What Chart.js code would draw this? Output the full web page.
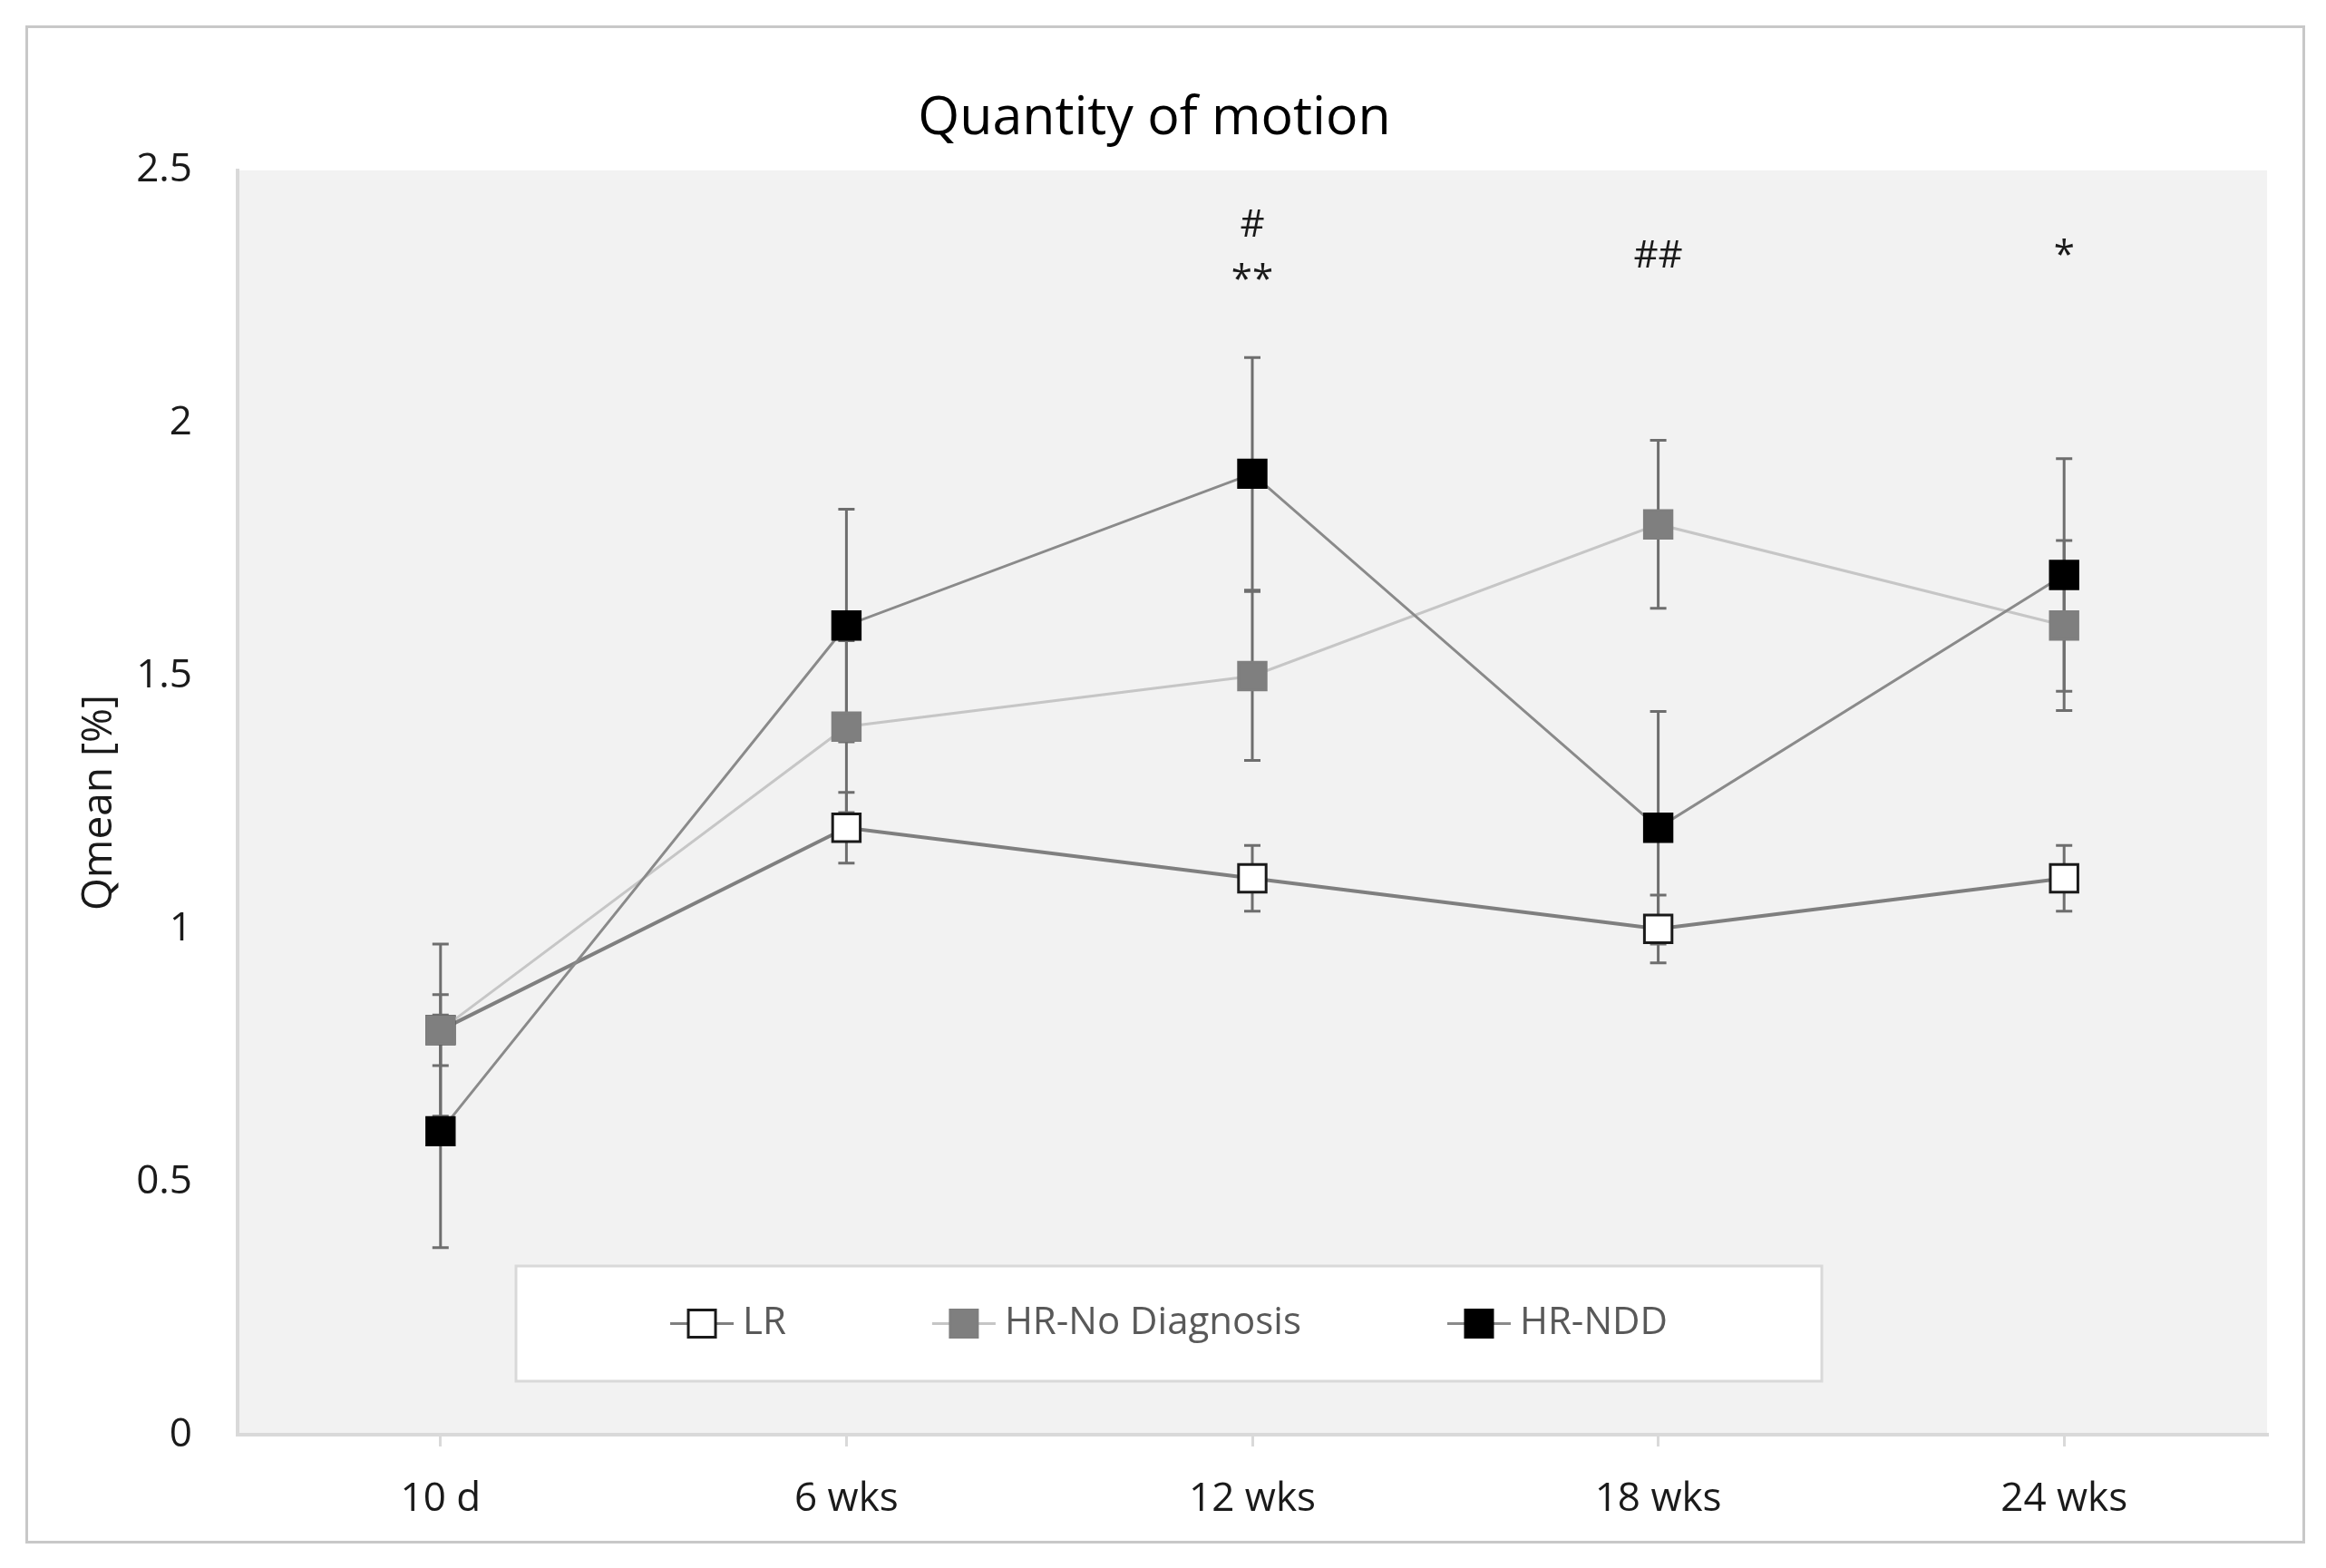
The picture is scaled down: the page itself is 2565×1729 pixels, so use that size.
<!DOCTYPE html>
<html>
<head>
<meta charset="utf-8">
<title>Quantity of motion</title>
<script src="https://cdn.jsdelivr.net/npm/chart.js@4.4.1/dist/chart.umd.min.js"></script>
<style>
  html, body { margin: 0; padding: 0; background: #fff; }
  canvas { display: block; }
</style>
</head>
<body>
<canvas id="chart" width="2565" height="1729"></canvas>
<script>
const categories = ['10 d', '6 wks', '12 wks', '18 wks', '24 wks'];

const lrMean = [0.8, 1.2, 1.1, 1.0, 1.1];
const lrErr = [0.07, 0.07, 0.065, 0.067, 0.065];
const noDiagMean = [0.8, 1.4, 1.5, 1.8, 1.6];
const noDiagErr = [0.17, 0.17, 0.167, 0.166, 0.168];
const nddMean = [0.6, 1.6, 1.9, 1.2, 1.7];
const nddErr = [0.23, 0.23, 0.23, 0.23, 0.23];

// significance marks above the points
const sigText = ['#', '**', '##', '*'];
const sigCategory = ['12 wks', '12 wks', '18 wks', '24 wks'];
const sigLevel = [2.39, 2.28, 2.33, 2.33];

const FONT = '"Open Sans", "Noto Sans", sans-serif';

// white page, outer frame and grey plot area
const frame = {
    id: 'frame',
    beforeDraw(chart) {
        const { ctx, chartArea: a } = chart;
        ctx.save();
        ctx.fillStyle = '#ffffff';
        ctx.fillRect(0, 0, chart.width, chart.height);
        ctx.strokeStyle = '#c8c8c8';
        ctx.lineWidth = 3;
        ctx.strokeRect(29.5, 29.5, 2511, 1671);
        ctx.fillStyle = '#f2f2f2';
        ctx.fillRect(a.left, a.top, a.width, a.height);
        ctx.restore();
    }
};

const errorBars = {
    id: 'errorBars',
    beforeDatasetsDraw(chart) {
        const { ctx, scales: { x, y } } = chart;
        ctx.save();
        ctx.strokeStyle = '#6e6e6e';
        ctx.lineWidth = 3;
        chart.data.datasets.forEach(ds => {
            ds.data.forEach((v, j) => {
                const px = x.getPixelForValue(j);
                const top = y.getPixelForValue(v + ds.errors[j]);
                const bot = y.getPixelForValue(v - ds.errors[j]);
                ctx.beginPath();
                ctx.moveTo(px, top); ctx.lineTo(px, bot);
                ctx.moveTo(px - 9, top); ctx.lineTo(px + 9, top);
                ctx.moveTo(px - 9, bot); ctx.lineTo(px + 9, bot);
                ctx.stroke();
            });
        });
        ctx.restore();
    }
};

const sigMarks = {
    id: 'sigMarks',
    afterDatasetsDraw(chart) {
        const { ctx, scales: { x, y } } = chart;
        ctx.save();
        ctx.fillStyle = '#1a1a1a';
        ctx.font = `42px ${FONT}`;
        ctx.textAlign = 'center';
        ctx.textBaseline = 'middle';
        sigText.forEach((t, i) => {
            ctx.fillText(t, x.getPixelForValue(categories.indexOf(sigCategory[i])), y.getPixelForValue(sigLevel[i]));
        });
        ctx.restore();
    }
};

// Excel-style legend box sitting inside the plot area
const boxLegend = {
    id: 'boxLegend',
    afterDraw(chart) {
        const ctx = chart.ctx;
        const box = { left: 569, top: 1396, width: 1440, height: 127 };
        ctx.save();
        ctx.fillStyle = '#ffffff';
        ctx.fillRect(box.left, box.top, box.width, box.height);
        ctx.strokeStyle = '#d9d9d9';
        ctx.lineWidth = 3;
        ctx.strokeRect(box.left, box.top, box.width, box.height);

        ctx.font = `42px ${FONT}`;
        const lineLen = 70, gap = 10, spacing = 161, s = 30;
        const items = chart.data.datasets.map(ds => ({ ds, w: ctx.measureText(ds.label).width }));
        const total = items.reduce((sum, it) => sum + lineLen + gap + it.w, 0) + spacing * (items.length - 1);
        let x = box.left + (box.width - total) / 2;
        const cy = box.top + box.height / 2;
        items.forEach(({ ds, w }) => {
            ctx.strokeStyle = ds.borderColor;
            ctx.lineWidth = 3;
            ctx.beginPath();
            ctx.moveTo(x, cy); ctx.lineTo(x + lineLen, cy);
            ctx.stroke();
            const mx = x + lineLen / 2;
            ctx.fillStyle = ds.pointBackgroundColor;
            ctx.fillRect(mx - s / 2, cy - s / 2, s, s);
            ctx.strokeStyle = ds.pointBorderColor;
            ctx.strokeRect(mx - s / 2, cy - s / 2, s, s);
            ctx.fillStyle = '#595959';
            ctx.textAlign = 'left';
            ctx.textBaseline = 'middle';
            ctx.fillText(ds.label, x + lineLen + gap, cy);
            x += lineLen + gap + w + spacing;
        });
        ctx.restore();
    }
};

function draw() {
    const ctx = document.getElementById('chart').getContext('2d');
    new Chart(ctx, {
        type: 'line',
        data: {
            labels: categories,
            datasets: [
                {
                    label: 'LR',
                    data: lrMean,
                    errors: lrErr,
                    order: 2,
                    borderColor: '#7f7f7f',
                    borderWidth: 4,
                    pointStyle: 'rect',
                    pointRadius: 21.5,
                    pointBorderWidth: 3,
                    pointBackgroundColor: '#ffffff',
                    pointBorderColor: '#1a1a1a'
                },
                {
                    label: 'HR-No Diagnosis',
                    data: noDiagMean,
                    errors: noDiagErr,
                    order: 1,
                    borderColor: '#c6c6c6',
                    borderWidth: 3,
                    pointStyle: 'rect',
                    pointRadius: 21.5,
                    pointBorderWidth: 3,
                    pointBackgroundColor: '#7f7f7f',
                    pointBorderColor: '#7f7f7f'
                },
                {
                    label: 'HR-NDD',
                    data: nddMean,
                    errors: nddErr,
                    order: 0,
                    borderColor: '#8a8a8a',
                    borderWidth: 3,
                    pointStyle: 'rect',
                    pointRadius: 21.5,
                    pointBorderWidth: 3,
                    pointBackgroundColor: '#000000',
                    pointBorderColor: '#000000'
                }
            ]
        },
        options: {
            responsive: false,
            animation: false,
            devicePixelRatio: 1,
            layout: { padding: { left: 46, right: 65, top: 0, bottom: 0 } },
            scales: {
                x: {
                    offset: true,
                    afterFit: s => { s.height = 147; },
                    grid: { drawOnChartArea: false, drawTicks: true, tickLength: 13, color: '#d9d9d9', lineWidth: 3 },
                    border: { display: true, color: '#d9d9d9', width: 4 },
                    ticks: { color: '#1a1a1a', padding: 32, font: { family: FONT, size: 44 } }
                },
                y: {
                    min: 0,
                    max: 2.5,
                    afterFit: s => { s.width = 216; },
                    grid: { display: false, drawTicks: false },
                    border: { display: true, color: '#d9d9d9', width: 4 },
                    ticks: {
                        stepSize: 0.5,
                        color: '#1a1a1a',
                        padding: 50,
                        font: { family: FONT, size: 44 },
                        callback: v => String(v)
                    },
                    title: {
                        display: true,
                        text: 'Qmean [%]',
                        color: '#1a1a1a',
                        font: { family: FONT, size: 46 },
                        padding: { top: 36, bottom: 0 }
                    }
                }
            },
            plugins: {
                legend: { display: false },
                tooltip: { enabled: false },
                title: {
                    display: true,
                    text: 'Quantity of motion',
                    color: '#000000',
                    font: { family: FONT, size: 59, weight: 'normal' },
                    padding: { top: 96, bottom: 21 }
                }
            }
        },
        plugins: [frame, errorBars, sigMarks, boxLegend]
    });
}

if (document.fonts && document.fonts.load) {
    document.fonts.load(`44px "Open Sans"`).then(draw, draw);
} else {
    draw();
}
</script>
</body>
</html>
